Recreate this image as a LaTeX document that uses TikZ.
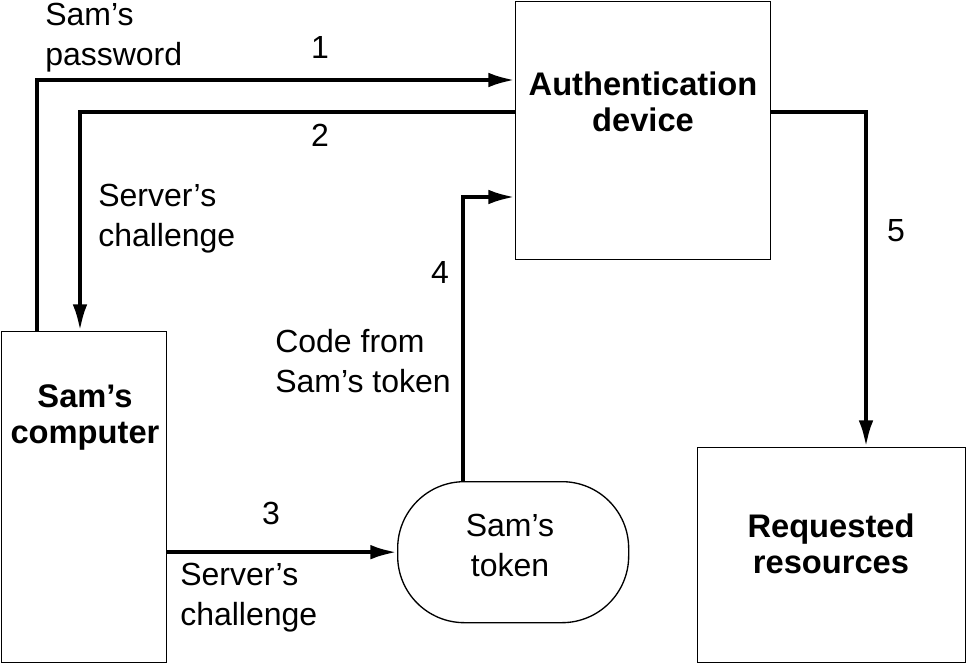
\documentclass[tikz,border=0pt]{standalone}
\usepackage{fontspec}
\setmainfont{Liberation Sans}
\usetikzlibrary{arrows.meta}
\begin{document}
\begin{tikzpicture}[x=0.75pt,y=-0.75pt,
  box/.style={draw,line width=1pt,inner sep=0pt},
  btxt/.style={align=center,inner sep=0pt,font=\fontsize{24.5}{27}\selectfont\bfseries},
  lbl/.style={align=left,font=\fontsize{24}{30}\selectfont,inner sep=0pt},
  arr/.style={line width=3pt,-{Latex[length=20pt,width=11pt]}}]
\useasboundingbox (0,0) rectangle (966,663);
\node[box,minimum width=255*0.75pt,minimum height=258*0.75pt,anchor=north west] (auth) at (515,1) {};
\node[box,minimum width=165*0.75pt,minimum height=331*0.75pt,anchor=north west] (comp) at (1,331) {};
\node[box,minimum width=268*0.75pt,minimum height=215*0.75pt,anchor=north west] (res) at (697,447) {};
\node[draw,line width=1pt,rounded corners=50pt,minimum width=231*0.75pt,minimum height=141*0.75pt,anchor=north west] (tok) at (397,481) {};
\node[btxt] (tauth) at (643,102) {Authentication\\device};
\node[btxt] (tcomp) at (85,417) {Sam’s\\computer};
\node[btxt] (tres) at (831,544) {Requested\\resources};
\node[lbl,align=center] (ttok) at (510,545) {Sam’s\\token};
\coordinate (c1) at (37,80);
\coordinate (c2) at (80,112);
\coordinate (c4) at (463,197);
\coordinate (c5) at (866,112);
\draw[arr] (comp.north -| c1) |- (auth.west |- c1);
\draw[arr] (auth.west |- c2) -| (comp.north -| c2);
\draw[arr] (comp.east |- tok.west) -- (tok.west);
\draw[arr] (tok.north -| c4) |- (auth.west |- c4);
\draw[arr] (auth.east |- c5) -| (res.north -| c5);
\node[lbl,anchor=west] (l1) at (45,38) {Sam’s\\password};
\node[lbl] (n1) at (320,47) {1};
\node[lbl] (n2) at (320,135) {2};
\node[lbl,anchor=west] (l2) at (98,219) {Server’s\\challenge};
\node[lbl] (n4) at (440,272) {4};
\node[lbl,anchor=west] (l4) at (275,361) {Code from\\Sam’s token};
\node[lbl] (n3) at (271,513) {3};
\node[lbl,anchor=west] (l3) at (180,598) {Server’s\\challenge};
\node[lbl] (n5) at (896,231) {5};
\end{tikzpicture}
\end{document}
